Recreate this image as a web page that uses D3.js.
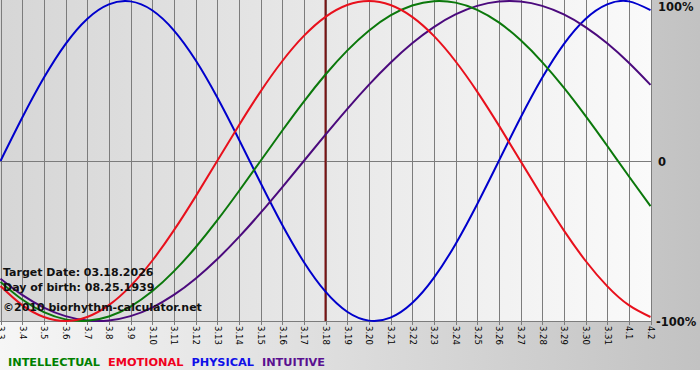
<!DOCTYPE html>
<html>
<head>
<meta charset="utf-8">
<script src="https://cdn.jsdelivr.net/npm/d3@7"></script>
<style>
  html, body { margin: 0; padding: 0; background: #ffffff; }
  svg { display: block; }
</style>
</head>
<body>
<script>
// ---- data ----
const dayLabels = ["3.3","3.4","3.5","3.6","3.7","3.8","3.9","3.10","3.11","3.12","3.13","3.14","3.15","3.16","3.17","3.18","3.19","3.20","3.21","3.22","3.23","3.24","3.25","3.26","3.27","3.28","3.29","3.30","3.31","4.1","4.2"];
const physical = [0,0.2698,0.5196,0.7308,0.8879,0.9791,0.9977,0.9423,0.8170,0.6311,0.3984,0.1362,-0.1362,-0.3984,-0.6311,-0.8170,-0.9423,-0.9977,-0.9791,-0.8879,-0.7308,-0.5196,-0.2698,0,0.2698,0.5196,0.7308,0.8879,0.9791,0.9977,0.9423];
const emotional = [-0.7818,-0.9010,-0.9749,-1,-0.9749,-0.9010,-0.7818,-0.6235,-0.4339,-0.2225,0,0.2225,0.4339,0.6235,0.7818,0.9010,0.9749,1,0.9749,0.9010,0.7818,0.6235,0.4339,0.2225,0,-0.2225,-0.4339,-0.6235,-0.7818,-0.9010,-0.9749];
const intellectual = [-0.7557,-0.8660,-0.9450,-0.9898,-0.9989,-0.9718,-0.9096,-0.8146,-0.6901,-0.5406,-0.3717,-0.1893,0,0.1893,0.3717,0.5406,0.6901,0.8146,0.9096,0.9718,0.9989,0.9898,0.9450,0.8660,0.7557,0.6182,0.4582,0.2817,0.0951,-0.0951,-0.2817];
const intuitive = [-0.7357,-0.8372,-0.9158,-0.9694,-0.9966,-0.9966,-0.9694,-0.9158,-0.8372,-0.7357,-0.6142,-0.4759,-0.3247,-0.1646,0,0.1646,0.3247,0.4759,0.6142,0.7357,0.8372,0.9158,0.9694,0.9966,0.9966,0.9694,0.9158,0.8372,0.7357,0.6142,0.4759];
const seriesNames = ["INTELLECTUAL","EMOTIONAL","PHYSICAL","INTUITIVE"];
const yTickLabels = ["100%","0","-100%"];
const yTickValues = [1, 0, -1];
const targetLabel = "Target Date: 03.18.2026";
const birthLabel = "Day of birth: 08.25.1939";
const creditLabel = "©2010 biorhythm-calculator.net";
const targetDay = "3.18";

// ---- styles ----
const W = 700, H = 380;
const plotL = 0.5, plotR = 650.5, plotT = 1, plotB = 321;
const lineColors = { INTELLECTUAL: "#0b780b", EMOTIONAL: "#e8101c", PHYSICAL: "#0000cc", INTUITIVE: "#4b0a7d" };
const legendColors = { INTELLECTUAL: "#008000", EMOTIONAL: "#f00020", PHYSICAL: "#1010e8", INTUITIVE: "#5a1090" };
const font = "'DejaVu Sans', Verdana, sans-serif";

const svg = d3.select("body").append("svg").attr("width", W).attr("height", H);
const defs = svg.append("defs");

const bgGrad = defs.append("linearGradient").attr("id", "bgGrad").attr("x1", 0).attr("x2", 1).attr("y1", 0).attr("y2", 0);
bgGrad.append("stop").attr("offset", 0).attr("stop-color", "#f6f6f6");
bgGrad.append("stop").attr("offset", 1).attr("stop-color", "#c2c2c2");

const plotGrad = defs.append("linearGradient").attr("id", "plotGrad").attr("x1", 0).attr("x2", 1).attr("y1", 0).attr("y2", 0);
plotGrad.append("stop").attr("offset", 0).attr("stop-color", "#d6d6d6");
plotGrad.append("stop").attr("offset", 1).attr("stop-color", "#fafafa");

svg.append("rect").attr("x", 0).attr("y", 0).attr("width", W).attr("height", 370).attr("fill", "url(#bgGrad)");
svg.append("rect").attr("x", 0).attr("y", 0).attr("width", 651).attr("height", plotB).attr("fill", "url(#plotGrad)");

// ---- scales ----
const x = d3.scalePoint().domain(dayLabels).range([plotL, plotR]);
const y = d3.scaleLinear().domain([-1, 1]).range([plotB, plotT]);

// vertical grid + ticks
const xAxis = d3.axisBottom(x).tickSize(0).tickPadding(0);
const gx = svg.append("g").attr("transform", `translate(0,${plotB})`).call(xAxis);
gx.select(".domain").remove();
gx.selectAll(".tick").append("line")
  .attr("y1", -plotB).attr("y2", 3.5)
  .attr("stroke", "#7c7c7c").attr("stroke-width", 1)
  .attr("shape-rendering", "crispEdges");
gx.selectAll(".tick text")
  .attr("transform", "translate(0,5) rotate(90)")
  .attr("x", 0).attr("y", 0).attr("dy", 0)
  .attr("text-anchor", "start")
  .attr("dominant-baseline", "central")
  .attr("font-family", font).attr("font-size", "8.5px")
  .attr("fill", "#000");

// horizontal lines: zero and bottom
svg.append("line").attr("x1", 0).attr("x2", 652).attr("y1", Math.round(y(0)) + 0.5).attr("y2", Math.round(y(0)) + 0.5)
  .attr("stroke", "#7c7c7c").attr("stroke-width", 1);
svg.append("line").attr("x1", 0).attr("x2", 651).attr("y1", plotB + 0.5).attr("y2", plotB + 0.5)
  .attr("stroke", "#7c7c7c").attr("stroke-width", 1);

// target date line
svg.append("line").attr("x1", x(targetDay)).attr("x2", x(targetDay)).attr("y1", 0).attr("y2", plotB)
  .attr("stroke", "#7a1414").attr("stroke-width", 2);

// ---- curves ----
const seriesData = { INTELLECTUAL: intellectual, EMOTIONAL: emotional, PHYSICAL: physical, INTUITIVE: intuitive };
const line = d3.line().x((d, i) => x(dayLabels[i])).y(d => y(d)).curve(d3.curveNatural);
const drawOrder = ["PHYSICAL", "INTUITIVE", "INTELLECTUAL", "EMOTIONAL"];
drawOrder.forEach(name => {
  svg.append("path").datum(seriesData[name]).attr("d", line)
    .attr("fill", "none").attr("stroke", lineColors[name]).attr("stroke-width", 2)
    .attr("stroke-linejoin", "round");
});

// ---- info text ----
const info = svg.append("g").attr("font-family", font).attr("font-weight", "bold").attr("font-size", "11px").attr("fill", "#111");
info.append("text").attr("x", 3).attr("y", 276).text(targetLabel);
info.append("text").attr("x", 3).attr("y", 291).text(birthLabel);
info.append("text").attr("x", 3).attr("y", 310.5).text(creditLabel);

// ---- y labels on the right ----
const yl = svg.append("g").attr("font-family", font).attr("font-weight", "bold").attr("font-size", "11.5px").attr("fill", "#111");
const yBase = [11, 165.7, 326];
yTickLabels.forEach((t, i) => {
  yl.append("text").attr("x", t === "0" ? 658 : (t === "-100%" ? 656 : 658)).attr("y", yBase[i]).text(t);
});

// ---- legend ----
const lg = svg.append("g").attr("font-family", font).attr("font-weight", "bold").attr("font-size", "11.3px");
let lx = 8;
seriesNames.forEach(name => {
  const t = lg.append("text").attr("x", lx).attr("y", 365.6).attr("fill", legendColors[name]).text(name);
  lx += t.node().getComputedTextLength() + 8;
});
</script>
</body>
</html>
